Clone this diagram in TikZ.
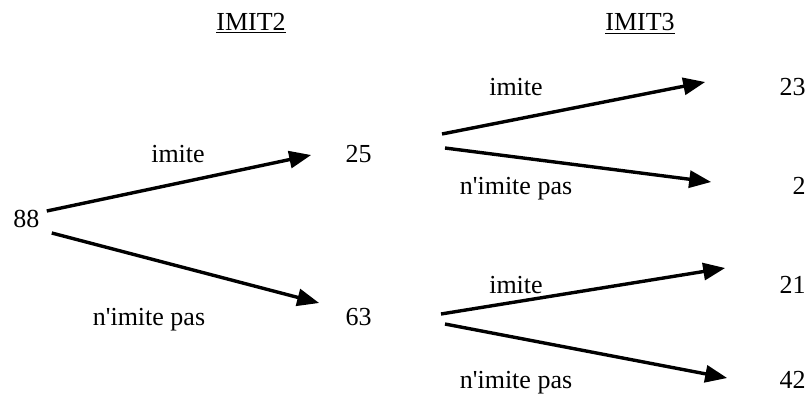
\documentclass[tikz,border=0pt]{standalone}
\usepackage{fontspec}
\setmainfont{Liberation Serif}
\usetikzlibrary{arrows.meta, calc}

\tikzset{
  lbl/.style={anchor=base, inner sep=0pt, font=\fontsize{13}{15.6}\selectfont},
  branch/.style={-{Triangle[length=11pt, width=8.5pt]}, line width=1.7pt}
}

\begin{document}
\begin{tikzpicture}[x=0.5pt, y=-0.5pt]
    \useasboundingbox (0,0) rectangle (809,397);
                        % Headers:
                        \node[lbl] (imit2) at (251,30) {\underline{IMIT2}};
                        \node[lbl] (imit3) at (640,30) {\underline{IMIT3}};

                        % Counts:
                        \node[lbl, anchor=base west] (n88) at (13,227) {88};
                        \node[lbl, anchor=base east] (n25) at (372,162) {25};
                        \node[lbl, anchor=base east] (n63) at (372,325) {63};
                        \node[lbl, anchor=base east] (n23) at (806,95) {23};
                        \node[lbl, anchor=base east] (n2) at (806,194) {2};
                        \node[lbl, anchor=base east] (n21) at (806,293) {21};
                        \node[lbl, anchor=base east] (n42) at (806,388) {42};

                        % Branch labels:
                        \node[lbl] (yes1) at (178,162) {imite};
                        \node[lbl] (no1) at (149,325) {n\textquotesingle imite pas};
                        \node[lbl] (yes2) at (516,95) {imite};
                        \node[lbl] (no2) at (516,194) {n\textquotesingle imite pas};
                        \node[lbl] (yes3) at (516,293) {imite};
                        \node[lbl] (no3) at (516,388) {n\textquotesingle imite pas};

                        % Branches:
                        \draw[branch] ($(n88.base east)+(7,-16)$) -- ($(n25.base west)+(-34,-7)$);
                        \draw[branch] ($(n88.base east)+(12,6)$) -- ($(n63.base west)+(-26,-22)$);
                        \draw[branch] ($(n25.base east)+(70,-28)$) -- ($(n23.base west)+(-74,-13)$);
                        \draw[branch] ($(n25.base east)+(73,-14)$) -- ($(n2.base west)+(-81,-12)$);
                        \draw[branch] ($(n63.base east)+(69,-11)$) -- ($(n21.base west)+(-54,-25)$);
                        \draw[branch] ($(n63.base east)+(73,-1)$) -- ($(n42.base west)+(-52,-10)$);
\end{tikzpicture}
\end{document}
